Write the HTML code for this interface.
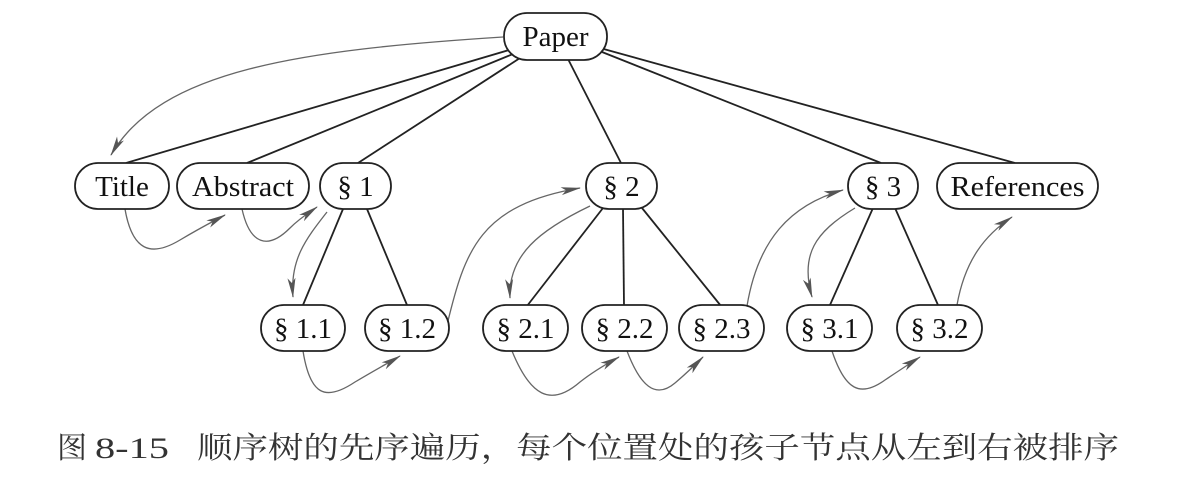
<!DOCTYPE html>
<html><head><meta charset="utf-8"><style>
html,body{margin:0;padding:0;background:#fff;}
svg{display:block;}
</style></head><body>
<svg width="1198" height="492" viewBox="0 0 1198 492" xmlns="http://www.w3.org/2000/svg">
<defs>
<marker id="a" viewBox="0 0 20 10" refX="19" refY="5" markerWidth="20" markerHeight="10" markerUnits="userSpaceOnUse" orient="auto">
<path d="M0,1 L20,5 L0,9 L5,5 Z" fill="#555"/>
</marker>
</defs>
<g stroke="#222" stroke-width="1.8" fill="none">
<line x1="509" y1="50" x2="126" y2="163"/>
<line x1="513" y1="54" x2="247" y2="163"/>
<line x1="520" y1="58" x2="358" y2="163"/>
<line x1="568" y1="59" x2="621" y2="163"/>
<line x1="602" y1="52" x2="881" y2="163"/>
<line x1="600" y1="48" x2="1015" y2="163"/>
<line x1="343" y1="209" x2="303" y2="305"/>
<line x1="367" y1="209" x2="407" y2="305"/>
<line x1="603" y1="208" x2="527" y2="306"/>
<line x1="623" y1="208" x2="624" y2="306"/>
<line x1="642" y1="208" x2="721" y2="306"/>
<line x1="873" y1="208" x2="830" y2="305"/>
<line x1="895" y1="208" x2="938" y2="305"/>
</g>
<g stroke="#666" stroke-width="1.3" fill="none" marker-end="url(#a)">
<path d="M503,37 C300,50 160,70 111,155"/>
<path d="M125,209 C132,250 150,258 180,240 C200,228 212,222 225,215"/>
<path d="M242,209 C250,245 268,250 290,228 C300,218 310,212 317,207"/>
<path d="M327,212 C305,240 290,260 293,297"/>
<path d="M303,351 C310,395 325,402 355,382 C375,370 390,362 400,356"/>
<path d="M447,325 C465,250 480,205 580,188"/>
<path d="M590,206 C540,230 508,255 510,298"/>
<path d="M512,351 C530,395 550,408 580,382 C595,370 610,362 619,357"/>
<path d="M627,351 C640,385 655,400 675,383 C688,372 697,363 703,357"/>
<path d="M747,306 C758,240 790,205 843,190"/>
<path d="M855,208 C815,232 800,255 812,297"/>
<path d="M832,351 C845,390 860,398 885,380 C900,370 912,362 920,357"/>
<path d="M957,305 C965,260 985,235 1012,217"/>
</g>
<g stroke="#222" stroke-width="1.8" fill="#fff">
<rect x="504" y="13" width="103" height="47" rx="23"/>
<rect x="75" y="163" width="94" height="46" rx="23"/>
<rect x="177" y="163" width="132" height="46" rx="23"/>
<rect x="320" y="163" width="71" height="46" rx="23"/>
<rect x="586" y="163" width="71" height="46" rx="23"/>
<rect x="848" y="163" width="70" height="46" rx="23"/>
<rect x="937" y="163" width="161" height="46" rx="23"/>
<rect x="261" y="305" width="84" height="46" rx="23"/>
<rect x="365" y="305" width="84" height="46" rx="23"/>
<rect x="483" y="305" width="85" height="46" rx="23"/>
<rect x="582" y="305" width="85" height="46" rx="23"/>
<rect x="679" y="305" width="85" height="46" rx="23"/>
<rect x="787" y="305" width="85" height="46" rx="23"/>
<rect x="897" y="305" width="85" height="46" rx="23"/>
</g>
<g font-family="'Liberation Serif', serif" font-size="29" fill="#111" text-anchor="middle">
<text x="555.5" y="46">Paper</text>
<text x="122" y="196">Title</text>
<text x="243" y="196" textLength="102" lengthAdjust="spacingAndGlyphs">Abstract</text>
<text x="355.5" y="196">§ 1</text>
<text x="621.5" y="196">§ 2</text>
<text x="883" y="196">§ 3</text>
<text x="1017.5" y="196" textLength="134" lengthAdjust="spacingAndGlyphs">References</text>
<text x="303" y="338">§ 1.1</text>
<text x="407" y="338">§ 1.2</text>
<text x="525.5" y="338">§ 2.1</text>
<text x="624.5" y="338">§ 2.2</text>
<text x="721.5" y="338">§ 2.3</text>
<text x="829.5" y="338">§ 3.1</text>
<text x="939.5" y="338">§ 3.2</text>
</g>
<g fill="#333" font-size="30">
<text x="57" y="458" font-family="'Noto Serif CJK SC', 'Noto Sans CJK SC', serif">图</text>
<text x="95" y="458" font-family="'Liberation Serif', serif" textLength="74" lengthAdjust="spacingAndGlyphs">8-15</text>
<text x="197" y="458" font-family="'Noto Serif CJK SC', 'Noto Sans CJK SC', serif" textLength="922" lengthAdjust="spacingAndGlyphs">顺序树的先序遍历，每个位置处的孩子节点从左到右被排序</text>
</g>
</svg>
</body></html>
